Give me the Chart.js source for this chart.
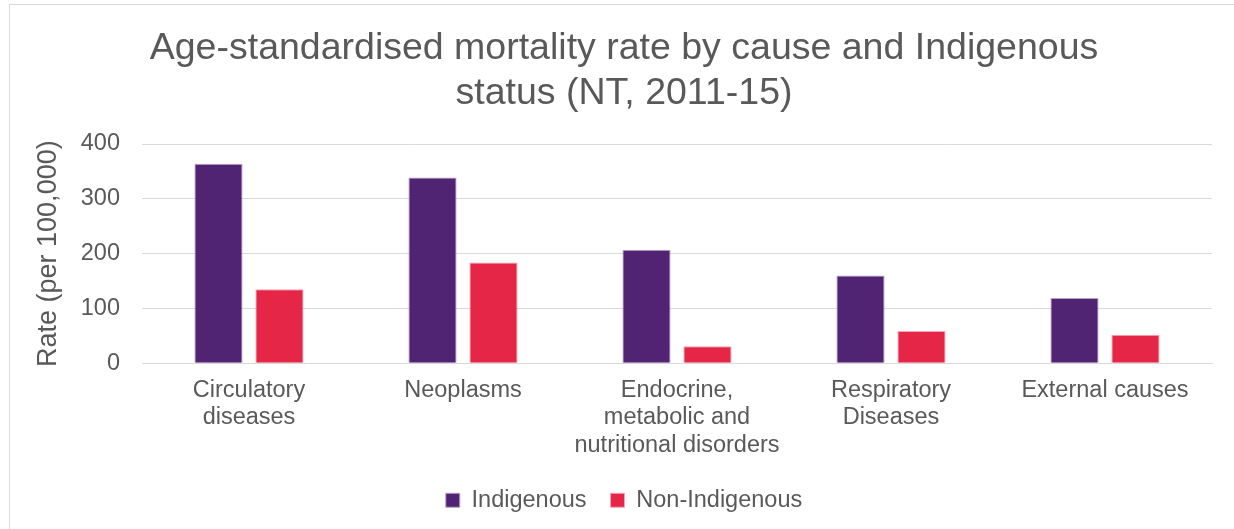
<!DOCTYPE html>
<html>
<head>
<meta charset="utf-8">
<script src="https://cdn.jsdelivr.net/npm/chart.js@4.4.1/dist/chart.umd.min.js"></script>
<style>
    html, body { margin: 0; padding: 0; background: #fff; overflow: hidden; }
    #frame { position: absolute; left: 9px; top: 4px; width: 1300px; height: 600px; border: 1px solid #d9d9d9; }
    #wrap { position: absolute; left: 0; top: 0; width: 1234px; height: 529px; }
</style>
</head>
<body>
<div id="frame"></div>
<div id="wrap"><canvas id="chartMortality"></canvas></div>
<script>
    // data
    const causeLabels = [
        ['Circulatory', 'diseases'],
        ['Neoplasms'],
        ['Endocrine,', 'metabolic and', 'nutritional disorders'],
        ['Respiratory', 'Diseases'],
        ['External causes']
    ];
    const indigenousRate = [364, 339, 207, 160, 119];
    const nonIndigenousRate = [135, 184, 31, 59, 52];
    const yTicks = [0, 100, 200, 300, 400];

    const textColor = '#595959';
    const fontFamily = '"Liberation Sans", Arial, sans-serif';

    const ctx = document.getElementById('chartMortality').getContext('2d');
    new Chart(ctx, {
        type: 'bar',
        data: {
            labels: causeLabels,
            datasets: [{
                label: 'Indigenous',
                data: indigenousRate,
                backgroundColor: '#512373',
                borderColor: '#b7a3c6',
                borderWidth: 1,
                categoryPercentage: 0.57,
                barPercentage: 0.79
            }, {
                label: 'Non-Indigenous',
                data: nonIndigenousRate,
                backgroundColor: '#e52646',
                borderColor: '#f4a6b3',
                borderWidth: 1,
                categoryPercentage: 0.57,
                barPercentage: 0.79
            }]
        },
        options: {
            responsive: true,
            maintainAspectRatio: false,
            animation: false,
            // kiri dibuat lebih lebar supaya judul & legend agak geser ke kanan
            layout: { padding: { left: 36, right: 22, top: 0, bottom: 7 } },
            plugins: {
                title: {
                    display: true,
                    text: ['Age-standardised mortality rate by cause and Indigenous', 'status (NT, 2011-15)'],
                    color: textColor,
                    font: { family: fontFamily, size: 37.5, weight: 'normal', lineHeight: 1.2 },
                    padding: { top: 26, bottom: 28 }
                },
                legend: {
                    position: 'bottom',
                    labels: {
                        color: textColor,
                        font: { family: fontFamily, size: 23.5 },
                        boxWidth: 14,
                        boxHeight: 14,
                        padding: 24
                    }
                },
                tooltip: { enabled: false }
            },
            scales: {
                x: {
                    grid: { display: false },
                    border: { color: '#d9d9d9', width: 1 },
                    ticks: {
                        color: textColor,
                        font: { family: fontFamily, size: 23.5, lineHeight: 1.18 },
                        maxRotation: 0,
                        padding: 5
                    }
                },
                y: {
                    min: 0,
                    max: 400,
                    afterBuildTicks: function (scale) {
                        scale.ticks = yTicks.map(v => ({ value: v }));
                    },
                    afterFit: function (scale) {
                        scale.width = 106;
                    },
                    grid: { color: '#d9d9d9', lineWidth: 1, drawTicks: false },
                    border: { display: false },
                    ticks: {
                        color: textColor,
                        font: { family: fontFamily, size: 23.5 },
                        padding: 22
                    },
                    title: {
                        display: true,
                        text: 'Rate (per 100,000)',
                        color: textColor,
                        font: { family: fontFamily, size: 27 },
                        padding: { top: -4, bottom: 4 }
                    }
                }
            }
        }
    });
</script>
</body>
</html>
